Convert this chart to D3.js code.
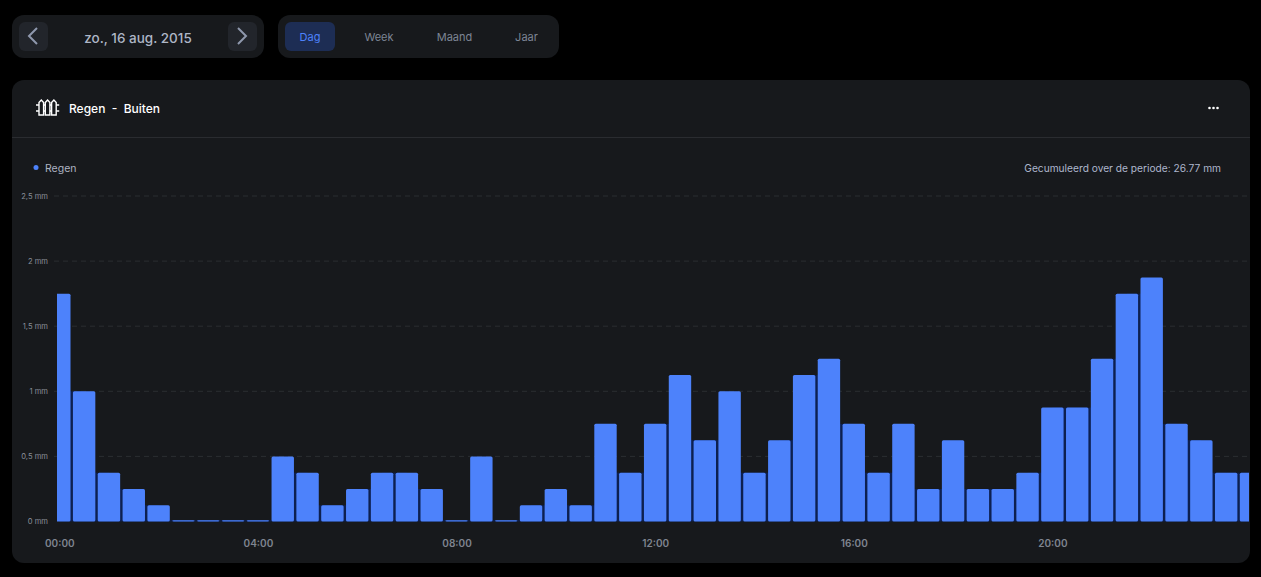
<!DOCTYPE html>
<html>
<head>
<meta charset="utf-8">
<script src="https://cdn.jsdelivr.net/npm/d3@7/dist/d3.min.js"></script>
<style>
  html, body { margin: 0; padding: 0; background: #000; overflow: hidden; }
  svg { display: block; font-family: Inter, "Noto Sans", sans-serif; }
</style>
</head>
<body>
<svg width="1261" height="577"></svg>
<script>
const svgWidth = 1261,
  svgHeight = 577,
  panelColor = '#17191c',
  barColor = '#4d82fb',
  gapColor = '#0d2050',
  gridColor = '#2b2e31',
  mutedColor = '#8a8f9a'

// half hour slots, the last one is cut off by the chart edge
const slotLabels = [
  '00:00', '00:30', '01:00', '01:30', '02:00', '02:30', '03:00', '03:30',
  '04:00', '04:30', '05:00', '05:30', '06:00', '06:30', '07:00', '07:30',
  '08:00', '08:30', '09:00', '09:30', '10:00', '10:30', '11:00', '11:30',
  '12:00', '12:30', '13:00', '13:30', '14:00', '14:30', '15:00', '15:30',
  '16:00', '16:30', '17:00', '17:30', '18:00', '18:30', '19:00', '19:30',
  '20:00', '20:30', '21:00', '21:30', '22:00', '22:30', '23:00', '23:30', '24:00'
]
const rainValues = [
  1.75, 1, 0.375, 0.25, 0.125, 0.01, 0.01, 0.01,
  0.01, 0.5, 0.375, 0.125, 0.25, 0.375, 0.375, 0.25,
  0.01, 0.5, 0.01, 0.125, 0.25, 0.125, 0.75, 0.375,
  0.75, 1.125, 0.625, 1, 0.375, 0.625, 1.125, 1.25,
  0.75, 0.375, 0.75, 0.25, 0.625, 0.25, 0.25, 0.375,
  0.875, 0.875, 1.25, 1.75, 1.875, 0.75, 0.625, 0.375, 0.375
]
const yTicks = [0, 0.5, 1, 1.5, 2, 2.5]
const xTicks = ['00:00', '04:00', '08:00', '12:00', '16:00', '20:00']
const periodTabs = ['Dag', 'Week', 'Maand', 'Jaar']
const tabCenters = [310, 379, 454.5, 526.5]

const parseSlot = s => {
  const [h, m] = s.split(':').map(Number)
  return new Date(2015, 7, 16, h, m)
}

const svg = d3.select('svg')

const x = d3.scaleTime()
  .domain([parseSlot('00:00'), parseSlot('24:00')])
  .range([59.3, 1251])
const y = d3.scaleLinear().domain([0, 2.5]).range([521.5, 196])
const barWidth = 22.4

function panel(px, py, w, h, r, fill) {
  return svg.append('rect')
    .attr('x', px).attr('y', py)
    .attr('width', w).attr('height', h)
    .attr('rx', r)
    .attr('fill', fill || panelColor)
}

function chevron(d, cx) {
  svg.append('path')
    .attr('d', d === 'l'
      ? `M${cx + 4},28 L${cx - 4},36 L${cx + 4},44`
      : `M${cx - 4},28 L${cx + 4},36 L${cx - 4},44`)
    .attr('fill', 'none')
    .attr('stroke', '#8f98ad')
    .attr('stroke-width', 2)
}

// top controls
panel(12, 15, 252, 43, 12)
panel(19, 22, 29, 29, 6, '#22252b')
panel(228, 22, 29, 29, 6, '#22252b')
chevron('l', 33)
chevron('r', 242)
svg.append('text')
  .attr('x', 138).attr('y', 42.5)
  .attr('text-anchor', 'middle')
  .attr('font-size', 13.5)
  .attr('font-weight', 500)
  .attr('fill', '#aeb6c6')
  .text('zo., 16 aug. 2015')

panel(278, 15, 281, 43, 12)
panel(285, 22, 50, 29, 6, '#1d2d54')
svg.selectAll('.tab')
  .data(periodTabs)
  .enter().append('text')
  .attr('class', 'tab')
  .attr('x', (d, i) => tabCenters[i])
  .attr('y', 41)
  .attr('text-anchor', 'middle')
  .attr('font-size', 11)
  .attr('fill', (d, i) => i === 0 ? '#4d82fb' : '#7d8594')
  .text(d => d)

// main card
panel(12, 80, 1238, 483, 12)
svg.append('line')
  .attr('x1', 12).attr('x2', 1250)
  .attr('y1', 137.5).attr('y2', 137.5)
  .attr('stroke', '#2a2c30')

// fence icon
const fence = svg.append('g')
  .attr('fill', 'none')
  .attr('stroke', '#fff')
  .attr('stroke-width', 1.4)
;[41.3, 47.6, 53.9].forEach(px => {
  fence.append('path')
    .attr('d', `M${px - 2.3},102.5 L${px},100 L${px + 2.3},102.5 L${px + 2.3},115 L${px - 2.3},115 Z`)
})
fence.append('path')
  .attr('d', 'M36,105 H39 M36,111 H39 M43.6,105 H45.3 M43.6,111 H45.3 M49.9,105 H51.6 M49.9,111 H51.6 M56.2,105 H59.2 M56.2,111 H59.2')

svg.append('text')
  .attr('x', 69).attr('y', 113)
  .attr('font-size', 12)
  .attr('font-weight', 500)
  .attr('fill', '#fff')
  .attr('xml:space', 'preserve')
  .text('Regen  -  Buiten')

svg.selectAll('.dot')
  .data([0, 1, 2])
  .enter().append('circle')
  .attr('class', 'dot')
  .attr('cx', d => 1209.5 + d * 4)
  .attr('cy', 108)
  .attr('r', 1.3)
  .attr('fill', '#fff')

// legend
svg.append('circle')
  .attr('cx', 36).attr('cy', 167.5)
  .attr('r', 2.5)
  .attr('fill', barColor)
svg.append('text')
  .attr('x', 45).attr('y', 172)
  .attr('font-size', 10.5)
  .attr('fill', '#aeb4c2')
  .text('Regen')
svg.append('text')
  .attr('x', 1221).attr('y', 172)
  .attr('text-anchor', 'end')
  .attr('font-size', 10.2)
  .attr('fill', '#aeb6cc')
  .text('Gecumuleerd over de periode: 26.77 mm')

// grid and y axis
const yAxis = svg.append('g')
  .attr('transform', 'translate(52,0)')
  .call(d3.axisLeft(y)
    .tickValues(yTicks)
    .tickSize(0)
    .tickPadding(4)
    .tickFormat(d => String(d).replace('.', ',') + ' mm'))
yAxis.select('.domain').remove()
yAxis.selectAll('text')
  .attr('font-family', 'Inter, "Noto Sans", sans-serif')
  .attr('font-size', 7.6)
  .attr('fill', mutedColor)

svg.append('g').selectAll('line')
  .data(yTicks.slice(1))
  .enter().append('line')
  .attr('x1', 54).attr('x2', 1249)
  .attr('y1', d => y(d)).attr('y2', d => y(d))
  .attr('stroke', gridColor)
  .attr('stroke-dasharray', '5 4')

// bars
svg.append('clipPath').attr('id', 'plot-clip')
  .append('rect')
  .attr('x', 57).attr('y', 180)
  .attr('width', 1192).attr('height', 342)

const plot = svg.append('g')
  .attr('clip-path', 'url(#plot-clip)')

// the slits between neighbouring bars read as dark navy in the original
plot.selectAll('.gap')
  .data(rainValues.slice(1).map((d, i) => ({ i, v: Math.min(d, rainValues[i]) })))
  .enter().append('rect')
  .attr('class', 'gap')
  .attr('x', d => x(parseSlot(slotLabels[d.i])))
  .attr('y', d => y(d.v))
  .attr('width', d => x(parseSlot(slotLabels[d.i + 1])) - x(parseSlot(slotLabels[d.i])))
  .attr('height', d => y(0) - y(d.v))
  .attr('fill', gapColor)

plot.selectAll('.bar')
  .data(rainValues)
  .enter().append('rect')
  .attr('class', 'bar')
  .attr('x', (d, i) => x(parseSlot(slotLabels[i])) - barWidth / 2)
  .attr('y', d => y(d))
  .attr('width', barWidth)
  .attr('height', d => y(0) - y(d))
  .attr('rx', 1.5)
  .attr('fill', barColor)

// x axis
const xAxis = svg.append('g')
  .attr('transform', 'translate(0,537)')
  .call(d3.axisBottom(x)
    .tickValues(xTicks.map(parseSlot))
    .tickSize(0)
    .tickPadding(3)
    .tickFormat(d3.timeFormat('%H:%M')))
xAxis.select('.domain').remove()
xAxis.selectAll('text')
  .attr('font-family', 'Inter, "Noto Sans", sans-serif')
  .attr('font-size', 10)
  .attr('font-weight', 600)
  .attr('fill', '#7f8590')
</script>
</body>
</html>
